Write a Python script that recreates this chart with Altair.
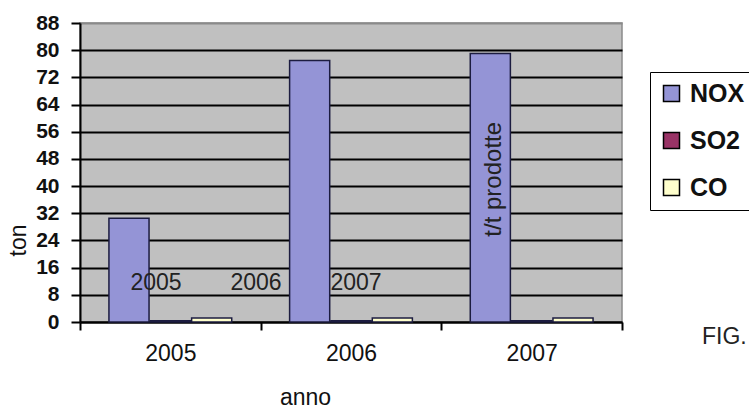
import altair as alt
import pandas as pd

# Emissions per year (tons)
years = ["2005", "2006", "2007"]
series = ["NOX", "SO2", "CO"]
nox = [30.5, 77.0, 79.0]
so2 = [0.4, 0.4, 0.4]
co = [1.2, 1.2, 1.2]
colors = ["#9494d6", "#993366", "#ffffcc"]
y_ticks = list(range(0, 89, 8))

# Loose year captions inside the plot
caption_text = ["2005", "2006", "2007"]
caption_pos = [2005, 2006, 2007]
caption_level = [11.5, 11.5, 11.5]

# Vertical note on the 2007 NOX bar
note_text = ["t/t prodotte"]
note_year = ["2007"]
note_gas = ["NOX"]
note_level = [42.0]

FONT = "Liberation Sans"
TXT = 23

rows = []
for i, yr in enumerate(years):
    for gas, vals in zip(series, [nox, so2, co]):
        rows.append({"anno": yr, "gas": gas, "ton": vals[i]})
df = pd.DataFrame(rows)

captions = pd.DataFrame({"label": caption_text, "pos": caption_pos, "lvl": caption_level})
notes = pd.DataFrame({"txt": note_text, "anno": note_year, "gas": note_gas, "lvl": note_level})
fig = pd.DataFrame({"t": ["FIG."]})

x_scale = alt.Scale(domain=years, paddingInner=0, paddingOuter=0)
off_scale = alt.Scale(domain=series, paddingInner=0.03, paddingOuter=0.7)
y_scale = alt.Scale(domain=[0, 88], nice=False)

# One shared definition of the value axis, used by every layer
y_axis = alt.Axis(
    values=y_ticks,
    title="ton",
    grid=True,
    gridColor={"condition": {"test": "datum.value >= 88", "value": "#8a8a8a"}, "value": "black"},
    gridWidth=2,
    tickSize=9,
    tickWidth=2,
    tickColor="black",
    domainColor="black",
    domainWidth=2,
    labelOverlap=False,
    labelFont=FONT,
    labelFontSize=21,
    labelFontWeight="bold",
    labelColor="#111111",
    labelPadding=12,
    titleFont=FONT,
    titleFontSize=TXT,
    titleFontWeight="normal",
    titleColor="#111111",
    titleAngle=270,
    titleX=-62,
    titleY=217,
    titleBaseline="middle",
    titleAlign="center",
)

bars = alt.Chart(df).mark_bar(stroke="#1c1c40", strokeWidth=1.5).encode(
    x=alt.X(
        "anno:N",
        scale=x_scale,
        axis=alt.Axis(
            title="anno",
            labelAngle=0,
            tickBand="extent",
            tickSize=8,
            tickWidth=2,
            tickColor="black",
            domainColor="black",
            domainWidth=2,
            labelFont=FONT,
            labelFontSize=TXT,
            labelColor="#111111",
            labelPadding=12,
            titleFont=FONT,
            titleFontSize=TXT,
            titleFontWeight="normal",
            titleColor="#111111",
            titleX=225,
            titleY=75,
            titleBaseline="middle",
            titleAlign="center",
        ),
    ),
    xOffset=alt.XOffset("gas:N", scale=off_scale, sort=series),
    y=alt.Y("ton:Q", scale=y_scale, axis=y_axis),
    color=alt.Color(
        "gas:N",
        sort=series,
        scale=alt.Scale(domain=series, range=colors),
        legend=alt.Legend(
            title=None,
            orient="none",
            legendX=570,
            legendY=49,
            symbolType="square",
            symbolSize=256,
            symbolStrokeColor="black",
            symbolStrokeWidth=1.5,
            labelFont=FONT,
            labelFontSize=25,
            labelFontWeight="bold",
            labelColor="#111111",
            labelOffset=6,
            rowPadding=21,
            padding=9,
            strokeColor="black",
            fillColor="white",
        ),
    ),
)

note = alt.Chart(notes).mark_text(
    angle=270, font=FONT, fontSize=24, color="#222222", baseline="middle", dy=4
).encode(
    x=alt.X("anno:N", scale=x_scale, axis=None),
    xOffset=alt.XOffset("gas:N", scale=off_scale),
    y=alt.Y("lvl:Q", scale=y_scale, axis=y_axis),
    text="txt:N",
)

caption = alt.Chart(captions).mark_text(
    font=FONT, fontSize=TXT, color="#222222", baseline="middle"
).encode(
    x=alt.X("pos:Q", scale=alt.Scale(domain=[2004.24, 2009.66], nice=False, zero=False), axis=None),
    y=alt.Y("lvl:Q", scale=y_scale, axis=y_axis),
    text="label:N",
)

fig_label = alt.Chart(fig).mark_text(
    font=FONT, fontSize=TXT, color="#222222", align="left", baseline="middle"
).encode(x=alt.value(622), y=alt.value(314), text="t:N")

chart = (
    alt.layer(bars, note, caption, fig_label)
    .resolve_scale(x="independent")
    .properties(
        width=542,
        height=299,
        autosize=alt.AutoSizeParams(type="none"),
        padding={"left": 80, "top": 23, "right": 127, "bottom": 90},
        background="white",
    )
    .configure_view(fill="#c0c0c0", stroke="#8a8a8a", strokeWidth=1.5)
)

chart.save("out.html", embed_options={"renderer": "svg", "actions": False})
